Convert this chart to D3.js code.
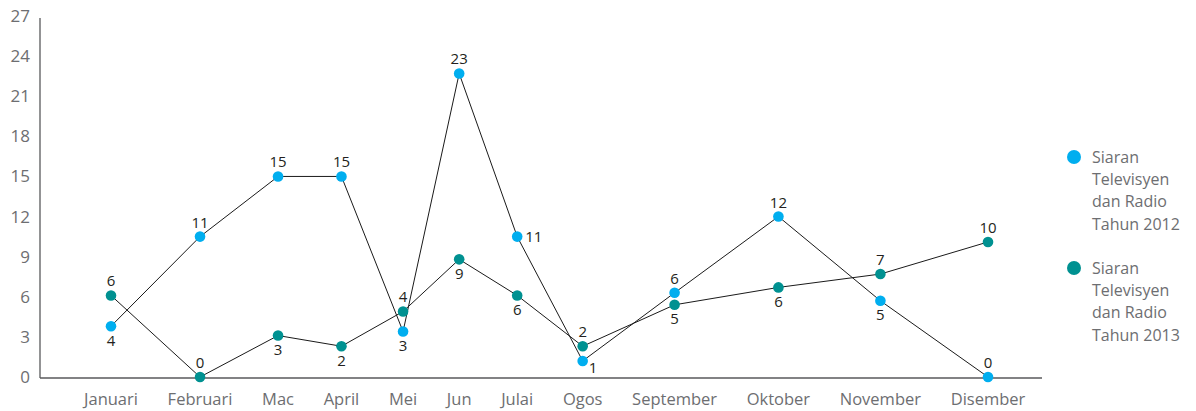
<!DOCTYPE html>
<html><head><meta charset="utf-8">
<script src="https://cdn.jsdelivr.net/npm/d3@7"></script>
<style>body{margin:0;background:#fff}svg{display:block;font-family:"Open Sans",sans-serif}</style>
</head><body><svg id="c" width="1196" height="411"></svg>
<script>
const months = ["Januari","Februari","Mac","April","Mei","Jun","Julai","Ogos","September","Oktober","November","Disember"];
const values2012 = [3.8,10.5,15,15,3.4,22.7,10.5,1.2,6.3,12,5.7,0];
const values2013 = [6.1,0,3.1,2.3,4.9,8.8,6.1,2.3,5.4,6.7,7.7,10.1];
const labels2012 = [4,11,15,15,3,23,11,1,6,12,5,0];
const labels2013 = [6,0,3,2,4,9,6,2,5,6,7,10];
const yTicks = [0,3,6,9,12,15,18,21,24,27];
const seriesNames = ["Siaran Televisyen dan Radio Tahun 2012","Siaran Televisyen dan Radio Tahun 2013"];

// label placement (style config)
const place2012 = ["below","above","above","above","below","above","right","belowright","above","above","below","above"];
const place2013 = ["above","above","below","below","above","below","below","above","below","below","above","above"];

const colors = ["#00aeef","#009191"];
const svg = d3.select("#c");
const y = d3.scaleLinear().domain([0,27]).range([377,16]);

const axisX0 = 40, axisX1 = 1042, firstC = 111, lastC = 988;

// x tick labels: measure widths to derive spacing
const xg = svg.append("g");
const xt = xg.selectAll("text").data(months).join("text")
  .attr("y",405).attr("text-anchor","middle")
  .attr("font-size",16.5).attr("fill","#6d6e71").text(d=>d);
const widths = xt.nodes().map(n=>n.getComputedTextLength());
let sumHalf = 0;
for(let i=0;i<widths.length-1;i++) sumHalf += (widths[i]+widths[i+1])/2;
const pad = ((lastC-firstC) - sumHalf)/(widths.length-1);
const pos = [firstC];
for(let i=1;i<widths.length;i++) pos.push(pos[i-1] + (widths[i-1]+widths[i])/2 + pad);
const x = d3.scaleOrdinal().domain(months).range(pos);
xt.attr("x",d=>x(d));

// y ticks
svg.append("g").selectAll("text").data(yTicks).join("text")
  .attr("x",30).attr("y",d=>y(d)).attr("dy","0.35em").attr("text-anchor","end")
  .attr("font-size",17).attr("fill","#6d6e71").text(d=>d);

// axes lines
svg.append("line").attr("x1",axisX0).attr("x2",axisX0).attr("y1",18).attr("y2",y(0)+1)
  .attr("stroke","#58595b").attr("stroke-width",1.3);
svg.append("line").attr("x1",axisX0).attr("x2",axisX1).attr("y1",y(0)+1).attr("y2",y(0)+1)
  .attr("stroke","#58595b").attr("stroke-width",1.3);

const line = d3.line().x((d,i)=>x(months[i])).y(d=>y(d));
const series = [
  {vals:values2012, labs:labels2012, place:place2012, color:colors[0]},
  {vals:values2013, labs:labels2013, place:place2013, color:colors[1]}
];
series.forEach(s=>{
  svg.append("path").attr("d",line(s.vals)).attr("fill","none").attr("stroke","#1a1a1a").attr("stroke-width",1);
});
series.forEach(s=>{
  svg.append("g").selectAll("circle").data(s.vals).join("circle")
    .attr("cx",(d,i)=>x(months[i])).attr("cy",d=>y(d)).attr("r",5.3).attr("fill",s.color);
});
series.forEach(s=>{
  svg.append("g").selectAll("text").data(s.vals).join("text")
    .attr("font-size",15).attr("fill","#231f20")
    .attr("text-anchor",(d,i)=>s.place[i]==="right"||s.place[i]==="belowright"?"start":"middle")
    .attr("x",(d,i)=>{const p=s.place[i];const cx=x(months[i]);return p==="right"?cx+8:p==="belowright"?cx+6:cx;})
    .attr("y",(d,i)=>{const p=s.place[i];const cy=y(d);return p==="above"?cy-9:p==="below"?cy+19.5:p==="right"?cy+5:cy+12;})
    .text((d,i)=>s.labs[i]);
});

// legend
const lg = svg.append("g");
const legendY = [157,268];
seriesNames.forEach((name,k)=>{
  lg.append("circle").attr("cx",1074).attr("cy",legendY[k]).attr("r",7).attr("fill",colors[k]);
  const words = name.split(" ");
  const lines = [words[0], words[1], words[2]+" "+words[3], words[4]+" "+words[5]];
  lines.forEach((t,j)=>{
    lg.append("text").attr("x",1092).attr("y",legendY[k]+j*22.3).attr("dy","0.35em")
      .attr("font-size",16).attr("fill","#6d6e71").text(t);
  });
});
</script></body></html>
